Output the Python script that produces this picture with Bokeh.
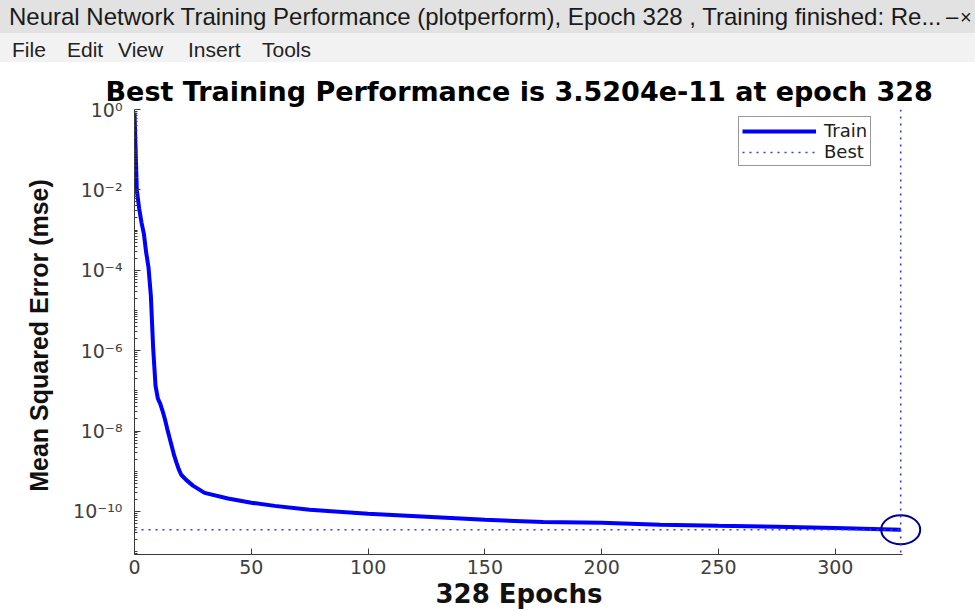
from bokeh.plotting import figure
from bokeh.models import (Range1d, FixedTicker, CustomJSTickFormatter, Legend, LegendItem,
                          Span, Div, Title)
from bokeh.layouts import column
from bokeh.embed import file_html
from bokeh.resources import INLINE

# ---------------- data ----------------
epochs = [0, 1, 2, 3, 4, 5, 6, 7, 8, 9, 10, 11, 12, 13, 14, 15, 16, 17, 18, 19, 20,
          22, 25, 30, 40, 50, 60, 75, 100, 125, 150, 175, 200, 225, 250, 275, 300, 328]
perf = [0.84, 9.6e-3, 3.45e-3, 1.54e-3, 8.2e-4, 2.75e-4, 1.17e-4, 2.34e-5, 1.12e-6, 1.35e-7,
        6.4e-8, 4.8e-8, 3.2e-8, 2.0e-8, 1.15e-8, 6.8e-9, 4.1e-9, 2.45e-9, 1.62e-9, 1.1e-9,
        8.2e-10, 6.2e-10, 4.4e-10, 2.9e-10, 2.1e-10, 1.65e-10, 1.38e-10, 1.1e-10, 8.8e-11,
        7.4e-11, 6.2e-11, 5.5e-11, 5.25e-11, 4.7e-11, 4.4e-11, 4.15e-11, 3.9e-11, 3.5204e-11]
best_epoch = 328
best_perf = 3.5204e-11

x_ticks = [0, 50, 100, 150, 200, 250, 300]
y_ticks = [1e-10, 1e-8, 1e-6, 1e-4, 1e-2, 1e0]
y_tick_labels = ["10⁻¹⁰", "10⁻⁸", "10⁻⁶", "10⁻⁴", "10⁻²", "10⁰"]
y_minor = [d * 10.0 ** k for k in range(-12, 0) for d in range(1, 10) if not (d == 1 and k % 2 == 0)]

window_title = "Neural Network Training Performance (plotperform), Epoch 328 , Training finished: Re..."
menu_items = ["File", "Edit", "View", "Insert", "Tools"]
menu_left = [12, 67, 118, 188, 262]
plot_title = "Best Training Performance is 3.5204e-11 at epoch 328"
x_label = "328 Epochs"
y_label = "Mean Squared Error  (mse)"

# ---------------- window chrome ----------------
menu_html = "".join(
    f'<span style="position:absolute;left:{l}px;top:33px;height:29px;line-height:33px;">{t}</span>'
    for t, l in zip(menu_items, menu_left))
header = Div(text=f"""
<div style="position:relative;width:975px;height:62px;overflow:hidden;font-family:'Liberation Sans',Arial,sans-serif;">
  <div style="position:absolute;left:0;top:0;width:975px;height:33px;background:#e2e2e2;"></div>
  <div style="position:absolute;left:0;top:33px;width:975px;height:29px;background:#f2f2f2;"></div>
  <div style="position:absolute;left:9px;top:0;height:33px;line-height:34px;font-size:24px;color:#1a1a1a;white-space:nowrap;">{window_title}</div>
  <div style="position:absolute;left:946px;top:0;height:33px;line-height:34px;font-size:22px;color:#1a1a1a;">–</div>
  <div style="position:absolute;left:960px;top:0;height:33px;line-height:34px;font-size:20px;color:#1a1a1a;">×</div>
  <div style="position:absolute;left:0;top:0;width:975px;height:62px;font-size:21px;color:#222;">{menu_html}</div>
</div>""", width=975, height=62, margin=0)

# ---------------- figure ----------------
p = figure(width=975, height=549, y_axis_type="log",
           x_range=Range1d(0, 342.9), y_range=Range1d(10 ** -11.07, 1.0),
           output_backend="svg", toolbar_location=None,
           min_border_left=134, min_border_right=40, min_border_top=47, min_border_bottom=57)
p.outline_line_color = None
p.xgrid.visible = False
p.ygrid.visible = False
p.background_fill_color = "white"
p.border_fill_color = "white"

train = p.line(epochs, perf, line_color="#0000ff", line_width=4)
best_h = p.line([0, best_epoch], [best_perf, best_perf], line_color="#3a3ad6",
                line_width=1.6, line_dash="2 5")
p.add_layout(Span(location=best_epoch, dimension="height", line_color="#3a3ad6",
                  line_width=1.6, line_dash="2 5"))
p.ellipse(x=[best_epoch], y=[best_perf], width=39, height=29,
          width_units="screen", height_units="screen",
          fill_color=None, line_color="#000090", line_width=2)

axis_col = "#3a3a3a"
for ax in (p.xaxis[0], p.yaxis[0]):
    ax.axis_line_color = axis_col
    ax.major_tick_line_color = axis_col
    ax.minor_tick_line_color = axis_col
    ax.major_tick_in = 6
    ax.major_tick_out = 0
    ax.minor_tick_in = 3
    ax.minor_tick_out = 0
    ax.major_label_text_font = "DejaVu Sans"
    ax.major_label_text_font_size = "19px"
    ax.major_label_text_color = "#404040"

p.xaxis.ticker = FixedTicker(ticks=x_ticks, minor_ticks=[])
p.xaxis.bounds = (0, 328.9)
p.xaxis.major_label_standoff = 5

p.yaxis.ticker = FixedTicker(ticks=y_ticks, minor_ticks=y_minor)
p.yaxis.formatter = CustomJSTickFormatter(args=dict(vals=y_ticks, labels=y_tick_labels), code="""
let best = 0, d = Infinity;
for (let i = 0; i < vals.length; i++) {
  const di = Math.abs(Math.log10(vals[i]) - Math.log10(tick));
  if (di < d) { d = di; best = i; }
}
return labels[best];
""")
p.yaxis.major_label_standoff = 12
p.yaxis.axis_label = y_label
p.yaxis.axis_label_text_font = "Liberation Sans"
p.yaxis.axis_label_text_font_style = "bold"
p.yaxis.axis_label_text_font_size = "25px"
p.yaxis.axis_label_text_color = "#111111"
p.yaxis.axis_label_standoff = 17

# titles, left-aligned with offsets so they centre over the drawn axis span (x 0..328)
p.add_layout(Title(text=plot_title, align="left", offset=-29, standoff=5,
                   text_font="DejaVu Sans", text_font_style="bold",
                   text_font_size="27px", text_color="#000000"), "above")
p.add_layout(Title(text=x_label, align="left", offset=301, standoff=0,
                   text_font="DejaVu Sans", text_font_style="bold",
                   text_font_size="26px", text_color="#111111"), "below")

legend = Legend(items=[LegendItem(label="Train", renderers=[train]),
                       LegendItem(label="Best", renderers=[best_h])],
                location=(604, 388))
legend.border_line_color = "#303030"
legend.border_line_width = 1
legend.background_fill_color = "white"
legend.background_fill_alpha = 1
legend.padding = 3
legend.spacing = 0
legend.margin = 0
legend.glyph_width = 74
legend.glyph_height = 18
legend.label_height = 18
legend.label_standoff = 8
legend.label_text_font = "DejaVu Sans"
legend.label_text_font_size = "18px"
legend.label_text_color = "#202020"
p.add_layout(legend)

layout = column(header, p, spacing=0)
open("out.html", "w").write(file_html(layout, INLINE))
